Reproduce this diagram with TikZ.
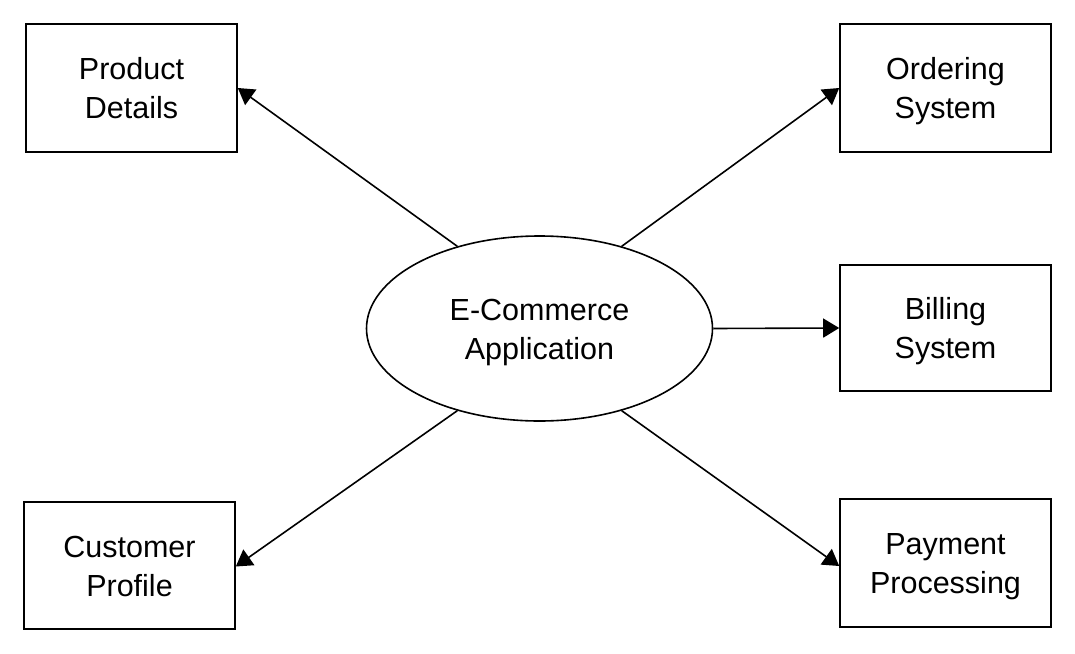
\documentclass[tikz,border=0pt]{standalone}
\usepackage{fontspec}
\setmainfont{Liberation Sans}
\usetikzlibrary{arrows.meta,shapes.geometric}
\newcommand\twolines[2]{\rule{0pt}{30pt}#1\\#2\rule[-7.5pt]{0pt}{7.5pt}}
\begin{document}
\begin{tikzpicture}[x=1pt,y=-1pt,
  box/.style={draw, line width=1.6pt, minimum width=211pt, minimum height=128pt, inner sep=0pt, align=center, font=\fontsize{30.5}{39}\selectfont},
  hub/.style={draw, line width=1.6pt, ellipse, minimum width=346pt, minimum height=185pt, inner sep=0pt, align=center, font=\fontsize{30.5}{39}\selectfont},
  link/.style={line width=1.6pt, -{Triangle[length=16pt,width=19pt]}}]
\useasboundingbox (0,0) rectangle (1075,653);
\node[hub] (e) at (539.5,328.5) {\twolines{E-Commerce}{Application}};
\node[box] (pd) at (131.5,88) {\twolines{Product}{Details}};
\node[box] (os) at (945.5,88) {\twolines{Ordering}{System}};
\node[box, minimum height=126pt] (bs) at (945.5,328) {\twolines{Billing}{System}};
\node[box, minimum height=127pt] (cp) at (129.5,565.5) {\twolines{Customer}{Profile}};
\node[box] (pp) at (945.5,563) {\twolines{Payment}{Processing}};
\draw[link] (e.135) -- (pd.east);
\draw[link] (e.45) -- (os.west);
\draw[link] (e.east) -- (bs.west);
\draw[link] (e.225) -- ([yshift=-1pt]cp.east);
\draw[link] (e.315) -- ([yshift=-3pt]pp.west);
\end{tikzpicture}
\end{document}
